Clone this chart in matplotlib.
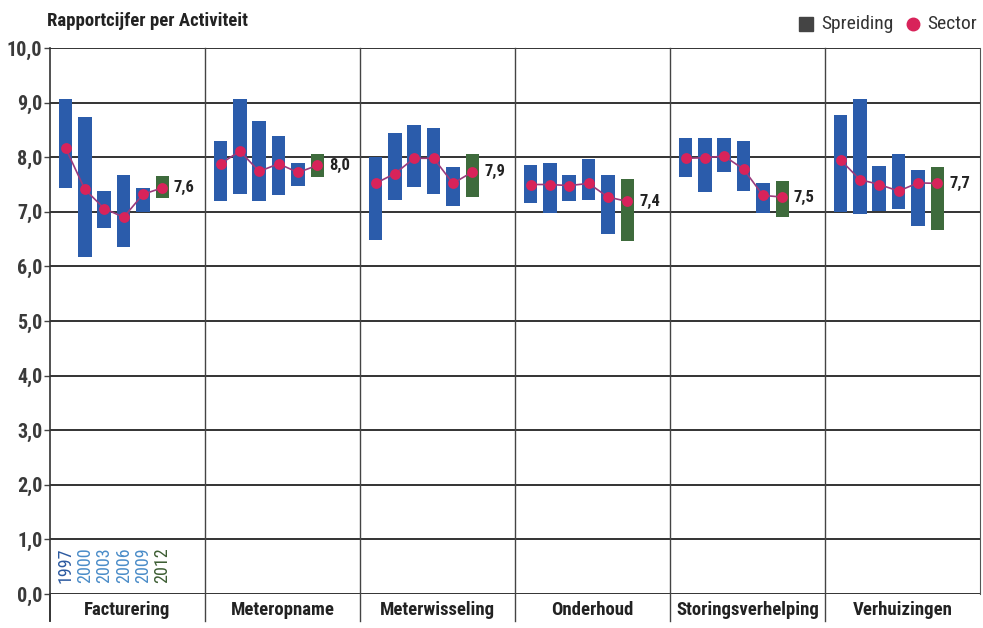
import matplotlib
matplotlib.use("Agg")
import matplotlib.pyplot as plt
from matplotlib import font_manager
from matplotlib.lines import Line2D
from matplotlib.patches import Rectangle

names = {f.name for f in font_manager.fontManager.ttflist}
cands = ['Roboto Condensed', 'Archivo Narrow', 'PT Sans Narrow', 'Fira Sans Condensed',
         'IBM Plex Sans Condensed', 'Barlow Condensed', 'Liberation Sans Narrow', 'DejaVu Sans']
cond = next(c for c in cands if c in names)
plt.rcParams['font.family'] = [cond, 'DejaVu Sans']

categories = ["Facturering", "Meteropname", "Meterwisseling", "Onderhoud",
              "Storingsverhelping", "Verhuizingen"]
years = ["1997", "2000", "2003", "2006", "2009", "2012"]

# spreiding (low, high) per category per year
low = [
    [7.44, 6.17, 6.70, 6.36, 7.00, 7.25],
    [7.19, 7.33, 7.19, 7.30, 7.48, 7.63],
    [6.48, 7.21, 7.45, 7.32, 7.10, 7.27],
    [7.17, 6.98, 7.19, 7.22, 6.60, 6.46],
    [7.64, 7.36, 7.72, 7.39, 6.97, 6.90],
    [7.00, 6.96, 7.02, 7.06, 6.74, 6.66],
]
high = [
    [9.06, 8.73, 7.39, 7.68, 7.44, 7.65],
    [8.29, 9.06, 8.67, 8.38, 7.89, 8.05],
    [8.00, 8.45, 8.59, 8.54, 7.82, 8.05],
    [7.85, 7.90, 7.68, 7.96, 7.68, 7.60],
    [8.36, 8.35, 8.36, 8.30, 7.53, 7.56],
    [8.78, 9.07, 7.83, 8.06, 7.77, 7.82],
]
sector = [
    [8.17, 7.41, 7.06, 6.90, 7.32, 7.44],
    [7.88, 8.11, 7.74, 7.88, 7.72, 7.85],
    [7.52, 7.70, 7.98, 7.98, 7.52, 7.73],
    [7.50, 7.50, 7.48, 7.52, 7.27, 7.19],
    [7.98, 7.99, 8.02, 7.78, 7.30, 7.27],
    [7.95, 7.59, 7.50, 7.38, 7.53, 7.52],
]
labels_2012 = ["7,6", "8,0", "7,9", "7,4", "7,5", "7,7"]
yticks = [0, 1, 2, 3, 4, 5, 6, 7, 8, 9, 10]
ytick_labels = ["0,0", "1,0", "2,0", "3,0", "4,0", "5,0", "6,0", "7,0", "8,0", "9,0", "10,0"]

blue = "#2b5cab"
green = "#3e6b3c"
red = "#d8235a"
linec = "#9a3a7c"
year_colors = ["#2c5aa0", "#4a8cc8", "#4a8cc8", "#4a8cc8", "#4a8cc8", "#3d5e33"]

fig = plt.figure(figsize=(9.83, 6.28), dpi=100)
ax = fig.add_axes([50/983, 1-594/628, 930/983, 546/628])

GW = 8.0
OFF = 0.8
BW = 0.7
for g, cat in enumerate(categories):
    xs = [g*GW + OFF + i for i in range(6)]
    for i in range(6):
        c = green if i == 5 else blue
        ax.add_patch(Rectangle((xs[i]-BW/2, low[g][i]), BW, high[g][i]-low[g][i],
                               facecolor=c, edgecolor='none', zorder=3))
    ax.plot(xs, sector[g], color=linec, lw=1.2, zorder=4)
    ax.plot(xs, sector[g], 'o', color=red, ms=7.8, mec='none', zorder=5)
    ax.text(xs[5] + 0.6, sector[g][5], labels_2012[g], fontsize=12, fontweight='bold',
            color='#222222', va='center', ha='left', zorder=6)
    ax.text(g*GW + GW/2, -0.3, cat, fontsize=13.5, fontweight='bold', color='#222222',
            ha='center', va='center', clip_on=False)
    if g > 0:
        ax.plot([g*GW, g*GW], [-0.5, 10], color='#444444', lw=1.0, clip_on=False, zorder=2)

# year labels in first group
for i, yr in enumerate(years):
    ax.text(OFF + i, 0.2, yr, rotation=90, fontsize=13, color=year_colors[i],
            ha='center', va='bottom', zorder=6)

for y in yticks:
    ax.axhline(y, color='#333333', lw=1.4, zorder=1)

ax.set_xlim(0, 6*GW)
ax.set_ylim(0, 10)
ax.set_yticks(yticks)
ax.set_yticklabels(ytick_labels, fontsize=14.5, fontweight='bold', color='#3a3a3a')
ax.set_xticks([])
ax.tick_params(axis='y', length=4, width=1, color='#444444', pad=1.5)
for s in ['top', 'bottom']:
    ax.spines[s].set_visible(False)
ax.spines['left'].set_color('#333333')
ax.spines['right'].set_color('#555555')
ax.spines['left'].set_bounds(-0.5, 10)
ax.spines['left'].set_linewidth(1.2)
ax.plot([0, 0], [-0.5, 0], color='#333333', lw=1.2, clip_on=False)

fig.text(47/983, 1-21/628, "Rapportcijfer per Activiteit", fontsize=13.5, fontweight='bold',
         color='#222222', ha='left', va='center')
# legend
fig.add_artist(Line2D([806/983], [1-24/628], marker='s', ms=10, color='#444444', lw=0,
                      transform=fig.transFigure))
fig.text(821/983, 1-24/628, "Spreiding", fontsize=14, color='#333333', ha='left', va='center')
fig.add_artist(Line2D([913/983], [1-24/628], marker='o', ms=9, color=red, lw=0,
                      transform=fig.transFigure))
fig.text(927/983, 1-24/628, "Sector", fontsize=14, color='#333333', ha='left', va='center')

fig.savefig("out.png", dpi=100)
